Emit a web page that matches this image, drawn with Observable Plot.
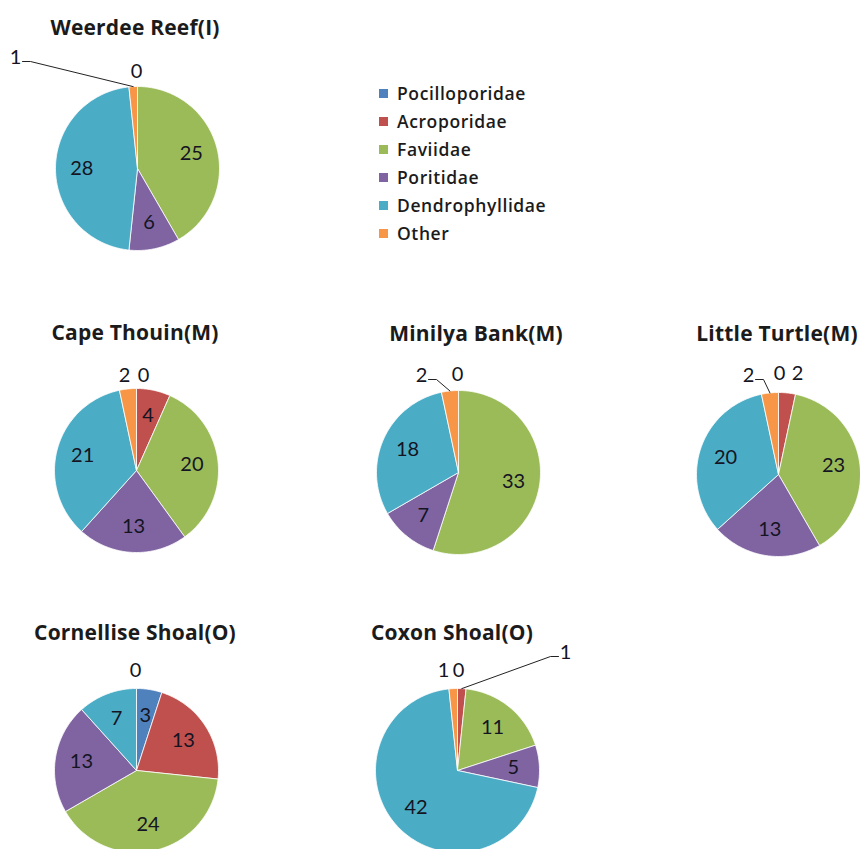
<!DOCTYPE html>
<html>
<head>
<meta charset="utf-8">
<script src="https://cdn.jsdelivr.net/npm/d3@7"></script>
<script src="https://cdn.jsdelivr.net/npm/@observablehq/plot@0.6"></script>
<style>
  html, body { margin: 0; padding: 0; background: #fff; width: 860px; height: 849px; overflow: hidden; }
  #root { position: relative; width: 860px; height: 849px; overflow: hidden; }
  .title { position: absolute; transform: translate(-50%, -50%); white-space: nowrap;
           font-family: "Open Sans", Lato, sans-serif; font-weight: 700; font-size: 21px;
           letter-spacing: 0.2px; color: #1b1b1b; }
  .panel { position: absolute; width: 300px; height: 260px; }
  .panel svg { overflow: visible; background: transparent; max-width: none !important; width: 300px; height: 260px; }
  #legend { position: absolute; left: 379px; top: 79px; font-family: "Open Sans", Lato, sans-serif;
            font-weight: 600; font-size: 17.5px; letter-spacing: 0.6px; color: #1b1b1b; }
  #legend .row { display: flex; align-items: center; height: 28px; }
  #legend .sw { width: 9px; height: 9px; margin-right: 9px; }
</style>
</head>
<body>
<div id="root"></div>
<script>
// ---------------- data ----------------
const families = ["Pocilloporidae", "Acroporidae", "Faviidae", "Poritidae", "Dendrophyllidae", "Other"];
const familyColors = ["#4F81BD", "#C0504D", "#9BBB59", "#8064A2", "#4BACC6", "#F79646"];
const sites = ["Weerdee Reef(I)", "Cape Thouin(M)", "Minilya Bank(M)", "Little Turtle(M)", "Cornellise Shoal(O)", "Coxon Shoal(O)"];
// values in family order (null = blank cell, not labelled)
const weerdeeReef     = [0, null, 25, 6, 28, 1];
const capeThouin      = [0, 4, 20, 13, 21, 2];
const minilyaBank     = [0, null, 33, 7, 18, 2];
const littleTurtle    = [0, 2, 23, 13, 20, 2];
const cornelliseShoal = [3, 13, 24, 13, 7, 0];
const coxonShoal      = [0, 1, 11, 5, 42, 1];
const siteValues = [weerdeeReef, capeThouin, minilyaBank, littleTurtle, cornelliseShoal, coxonShoal];

// ---------------- layout (not data) ----------------
const R = 82;
const pieCenters = [[137, 168], [136, 470], [458, 472], [778, 474], [136, 770], [457, 770]];
const titleCenters = [[135, 27], [135, 332], [476, 333], [777, 333], [135, 632], [452, 632]];
// label placement for small slices (offsets from pie centre, px); leader = draw a leader line
const callouts = [
  {Pocilloporidae: {p: [-1, -97]}, Other: {p: [-122, -111], leader: true}},
  {Pocilloporidae: {p: [7, -95]}, Other: {p: [-12, -95]}},
  {Pocilloporidae: {p: [-1, -98]}, Other: {p: [-37, -97], leader: true}},
  {Pocilloporidae: {p: [1, -101]}, Acroporidae: {p: [19, -101]}, Other: {p: [-30, -99], leader: true}},
  {Other: {p: [-1, -100]}},
  {Pocilloporidae: {p: [1, -100]}, Other: {p: [-14, -100]}, Acroporidae: {p: [108, -118], leader: true}}
];
const insideFrac = 0.68;
const PW = 300, PH = 260;

const root = document.getElementById("root");

sites.forEach((site, si) => {
  const values = siteValues[si];
  const total = d3.sum(values, v => v ?? 0);
  let acc = 0;
  const slices = values.map((v, i) => {
    const a0 = acc / total * 2 * Math.PI;
    acc += (v ?? 0);
    const a1 = acc / total * 2 * Math.PI;
    return {family: families[i], value: v, a0, a1, mid: (a0 + a1) / 2};
  });
  const pt = (a, r) => [r * Math.sin(a), -r * Math.cos(a)];

  // slice outlines
  const polys = [];
  slices.forEach(s => {
    if (!(s.value > 0)) return;
    const n = Math.max(2, Math.ceil((s.a1 - s.a0) / (Math.PI / 180)));
    polys.push({family: s.family, x: 0, y: 0});
    for (let k = 0; k <= n; k++) {
      const [x, y] = pt(s.a0 + (s.a1 - s.a0) * k / n, R);
      polys.push({family: s.family, x, y});
    }
    polys.push({family: s.family, x: 0, y: 0});
  });

  // labels
  const labels = [];
  const leaders = [];
  slices.forEach(s => {
    if (s.value == null) return;
    const c = callouts[si][s.family];
    if (c) {
      labels.push({x: c.p[0], y: c.p[1], text: String(s.value)});
      if (c.leader) {
        const [ex, ey] = pt(s.mid, R);
        const sign = ex > c.p[0] ? 1 : -1;
        const sx = c.p[0] + sign * 7, sy = c.p[1] + 4;
        leaders.push({id: s.family, x: sx, y: sy});
        leaders.push({id: s.family, x: sx + sign * 8, y: sy});
        leaders.push({id: s.family, x: ex, y: ey});
      }
    } else {
      const [x, y] = pt(s.mid, R * insideFrac);
      labels.push({x, y, text: String(s.value)});
    }
  });

  const chart = Plot.plot({
    width: PW, height: PH,
    margin: 0,
    x: {domain: [-PW / 2, PW / 2], axis: null},
    y: {domain: [PH / 2, -PH / 2], axis: null},
    color: {domain: families, range: familyColors},
    style: {background: "transparent"},
    marks: [
      Plot.line(polys, {x: "x", y: "y", z: "family", fill: "family", stroke: "white", strokeWidth: 0.8, strokeLinejoin: "round"}),
      Plot.line(leaders, {x: "x", y: "y", z: "id", stroke: "#222", strokeWidth: 1}),
      Plot.text(labels, {x: "x", y: "y", text: "text", fill: "#141423", fontSize: 20,
        fontFamily: "Lato, 'Open Sans', sans-serif"})
    ]
  });
  const panel = document.createElement("div");
  panel.className = "panel";
  panel.style.left = (pieCenters[si][0] - PW / 2) + "px";
  panel.style.top = (pieCenters[si][1] - PH / 2) + "px";
  panel.appendChild(chart);
  root.appendChild(panel);

  const t = document.createElement("div");
  t.className = "title";
  t.textContent = site;
  t.style.left = titleCenters[si][0] + "px";
  t.style.top = titleCenters[si][1] + "px";
  root.appendChild(t);
});

// legend
const legend = document.createElement("div");
legend.id = "legend";
families.forEach((f, i) => {
  const row = document.createElement("div");
  row.className = "row";
  const sw = document.createElement("div");
  sw.className = "sw";
  sw.style.background = familyColors[i];
  const tx = document.createElement("span");
  tx.textContent = f;
  row.appendChild(sw);
  row.appendChild(tx);
  legend.appendChild(row);
});
root.appendChild(legend);
</script>
</body>
</html>
